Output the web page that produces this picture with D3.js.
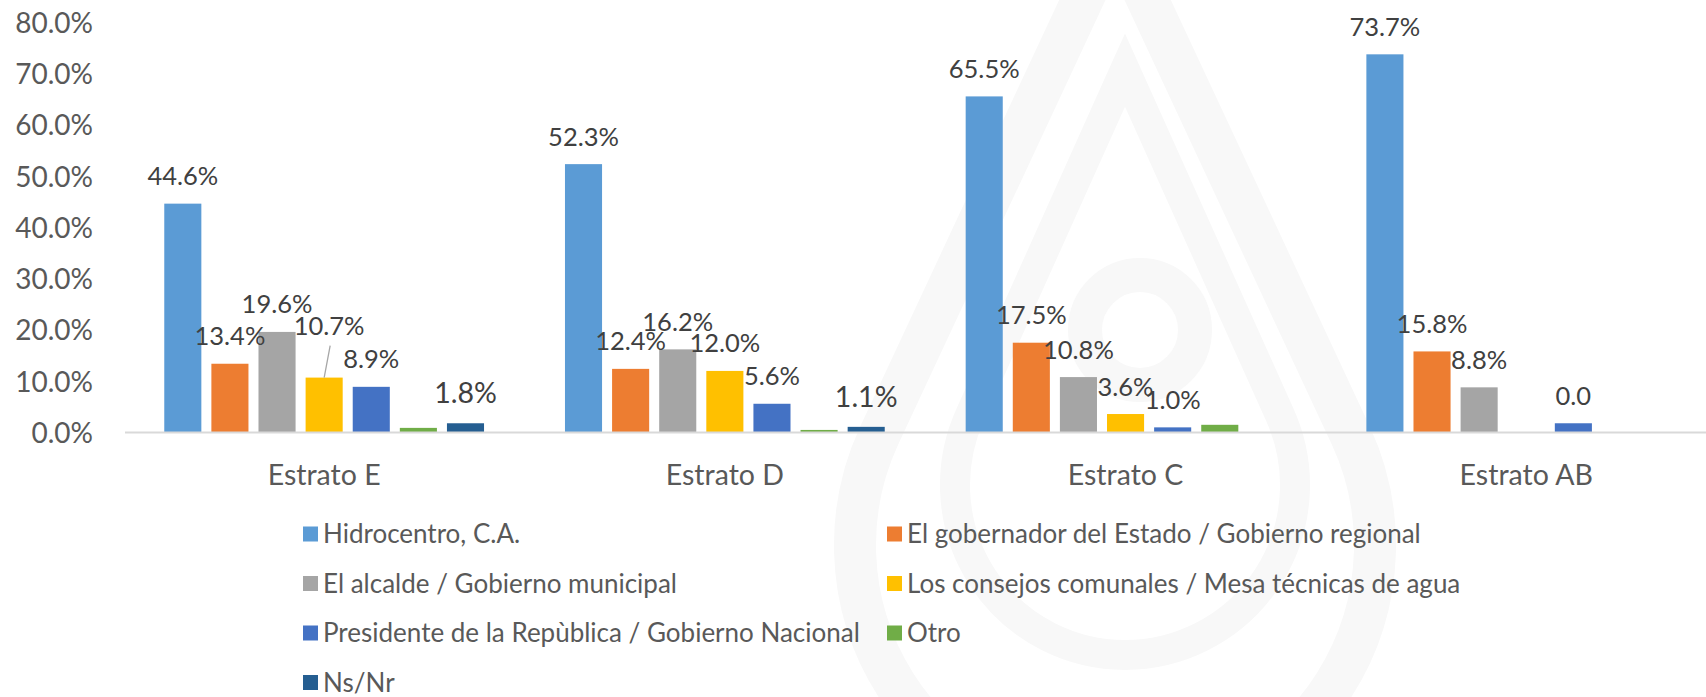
<!DOCTYPE html>
<html>
<head>
<meta charset="utf-8">
<script src="https://cdn.jsdelivr.net/npm/d3@7"></script>
<style>
  html, body { margin: 0; padding: 0; background: #ffffff; overflow: hidden; }
  svg { display: block; font-family: Lato, "Open Sans", sans-serif; }
</style>
</head>
<body>
<svg id="chart" width="1706" height="697"></svg>
<script>
// Categories (socio-economic strata)
const categories = ["Estrato E", "Estrato D", "Estrato C", "Estrato AB"];

// Series names in legend order
const seriesNames = [
  "Hidrocentro, C.A.",
  "El gobernador del Estado / Gobierno regional",
  "El alcalde / Gobierno municipal",
  "Los consejos comunales / Mesa técnicas de agua",
  "Presidente de la Repùblica / Gobierno Nacional",
  "Otro",
  "Ns/Nr"
];
const seriesColors = ["#5B9BD5", "#ED7D31", "#A5A5A5", "#FFC000", "#4472C4", "#70AD47", "#255E91"];

// Values per series, one per category (share of respondents)
const hidrocentro = [0.446, 0.523, 0.655, 0.737];
const gobernador  = [0.134, 0.124, 0.175, 0.158];
const alcalde     = [0.196, 0.162, 0.108, 0.088];
const consejos    = [0.107, 0.120, 0.036, 0.000];
const presidente  = [0.089, 0.056, 0.010, 0.018];
const otro        = [0.009, 0.005, 0.015, 0.000];
const nsnr        = [0.018, 0.011, 0.000, 0.000];
const seriesValues = [hidrocentro, gobernador, alcalde, consejos, presidente, otro, nsnr];

// Data-label number formats per series and category ("" = no label)
const labelFormats = [
  ["pct", "pct", "pct", "pct"],
  ["pct", "pct", "pct", "pct"],
  ["pct", "pct", "pct", "pct"],
  ["pct", "pct", "pct", ""],
  ["pct", "pct", "pct", "num"],
  ["", "", "", ""],
  ["pct", "pct", "", ""]
];

// Y axis ticks
const yTicks = [0, 0.1, 0.2, 0.3, 0.4, 0.5, 0.6, 0.7, 0.8];

const svg = d3.select("#chart");

// ---- faint background emblem (water drop) ----
function dropPath(cx, apexY, cy, r) {
  const d = cy - apexY;
  const a = Math.acos(r / d);
  const lx = cx - r * Math.sin(a), ly = cy - r * Math.cos(a);
  const rx = cx + r * Math.sin(a);
  return `M${cx},${apexY} L${lx},${ly} A${r},${r} 0 1 0 ${rx},${ly} Z`;
}
const emblem = svg.append("g").attr("fill", "none").attr("stroke", "#f8f8f8");
emblem.append("path").attr("d", dropPath(1115, -70, 545, 260)).attr("stroke-width", 42);
emblem.append("path").attr("d", dropPath(1125, 70, 485, 170)).attr("stroke-width", 30);
emblem.append("circle").attr("cx", 1140).attr("cy", 330).attr("r", 55).attr("stroke-width", 34);

// ---- scales ----
const y = d3.scaleLinear().domain([0, 0.8]).range([432.5, 22]);
const x0 = d3.scaleBand().domain(categories).range([123.8, 1726.6]);
const x1 = d3.scaleBand().domain(d3.range(seriesNames.length))
  .range([x0.bandwidth() * 0.101, x0.bandwidth() * 0.899]).paddingInner(0.213);

// ---- y axis labels ----
const yAxis = d3.axisLeft(y).tickValues(yTicks).tickFormat(d3.format(".1%")).tickSize(0).tickPadding(0);
const yg = svg.append("g").attr("transform", "translate(93,0)").call(yAxis);
yg.select(".domain").remove();
yg.selectAll("text")
  .attr("font-family", "Lato, sans-serif")
  .attr("font-size", 28)
  .attr("fill", "#595959")
  .attr("dy", "0.36em");

// ---- bars ----
const groups = svg.append("g").selectAll("g")
  .data(categories)
  .join("g")
  .attr("transform", d => `translate(${x0(d)},0)`);

groups.selectAll("rect")
  .data((c, ci) => seriesValues.map((vals, si) => ({ si, v: vals[ci] })).filter(d => d.v > 0))
  .join("rect")
  .attr("x", d => x1(d.si))
  .attr("width", x1.bandwidth())
  .attr("y", d => y(d.v))
  .attr("height", d => y(0) - y(d.v))
  .attr("fill", d => seriesColors[d.si]);

// ---- x axis baseline and category labels ----
const xAxis = d3.axisBottom(x0).tickSize(0).tickPadding(0);
const xg = svg.append("g").attr("transform", `translate(0,${y(0)})`).call(xAxis);
xg.select(".domain").remove();
xg.selectAll("text")
  .attr("font-family", "Lato, sans-serif")
  .attr("font-size", 28.5)
  .attr("fill", "#595959")
  .attr("y", 0)
  .attr("dy", 52);
svg.append("line")
  .attr("x1", 125).attr("x2", 1706)
  .attr("y1", y(0)).attr("y2", y(0))
  .attr("stroke", "#d9d9d9").attr("stroke-width", 2);

// ---- data labels ----
const fmtPct = d3.format(".1%");
const fmtNum = d3.format(".1f");
const labelNudge = { "3-0": -43 };   // the 10.7% label sits higher, joined by a leader line
const labels = [];
categories.forEach((c, ci) => {
  seriesValues.forEach((vals, si) => {
    const f = labelFormats[si][ci];
    if (!f) return;
    const v = vals[ci];
    const big = si === 6;
    const cx = x0(c) + x1(si) + x1.bandwidth() / 2;
    const lift = labelNudge[`${si}-${ci}`] || (big ? -20 : -18.5);
    labels.push({
      text: f === "pct" ? fmtPct(v) : fmtNum(v),
      x: cx + (labelNudge[`${si}-${ci}`] ? 5 : 0),
      y: y(v) + lift,
      size: big ? 28.5 : 25.5,
      leader: labelNudge[`${si}-${ci}`] ? { x1: cx + 6, y1: y(v) + lift + 11, x2: cx, y2: y(v) } : null
    });
  });
});

svg.append("g").selectAll("line")
  .data(labels.filter(d => d.leader))
  .join("line")
  .attr("x1", d => d.leader.x1).attr("y1", d => d.leader.y1)
  .attr("x2", d => d.leader.x2).attr("y2", d => d.leader.y2)
  .attr("stroke", "#a6a6a6").attr("stroke-width", 1.3);

svg.append("g").selectAll("text")
  .data(labels)
  .join("text")
  .attr("x", d => d.x)
  .attr("y", d => d.y)
  .attr("text-anchor", "middle")
  .attr("font-size", d => d.size)
  .attr("fill", "#404040")
  .text(d => d.text);

// ---- legend ----
const legendCols = [303, 887];
const legendRows = [534, 583.5, 633, 682.5];
const legend = svg.append("g").selectAll("g")
  .data(seriesNames)
  .join("g")
  .attr("transform", (d, i) => `translate(${legendCols[i % 2]},${legendRows[Math.floor(i / 2)]})`);
legend.append("rect")
  .attr("x", 0).attr("y", -7.5).attr("width", 15).attr("height", 15)
  .attr("fill", (d, i) => seriesColors[i]);
legend.append("text")
  .attr("x", 20).attr("y", 0).attr("dy", "0.36em")
  .attr("font-size", 26)
  .attr("fill", "#595959")
  .text(d => d);
</script>
</body>
</html>
